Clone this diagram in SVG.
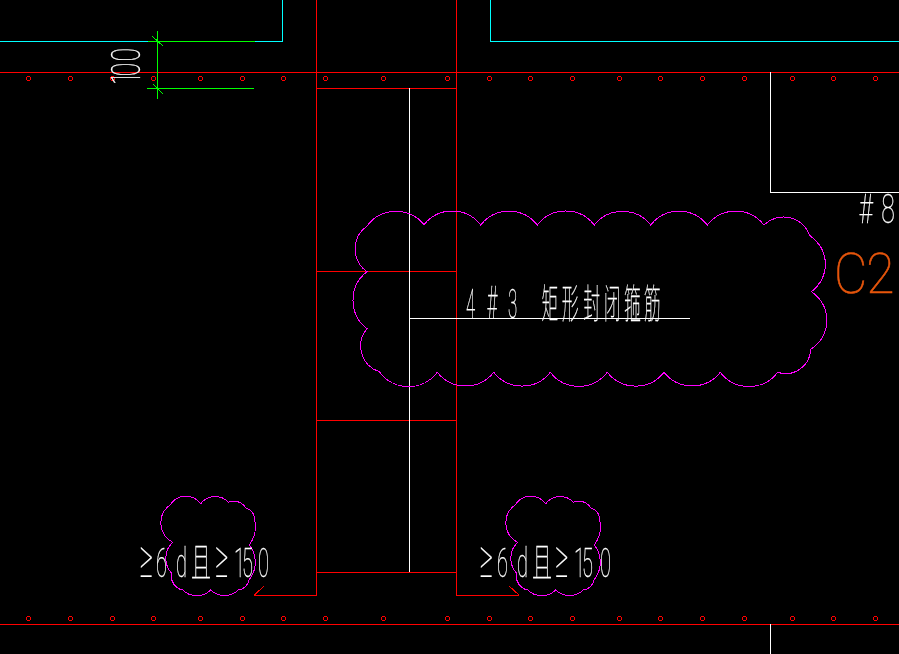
<svg xmlns="http://www.w3.org/2000/svg" width="899" height="654" viewBox="0 0 899 654">
<style>
path,circle{shape-rendering:crispEdges;fill:none;stroke-width:1}
.r{stroke:#f00}
.c{stroke:#0ff}
.g{stroke:#0f0}
.w{stroke:#fff}
.m{stroke:#f0f}
.d{stroke:#f00}
text{fill:#fff;stroke:#fff;stroke-width:.3;font-family:Roboto,"Noto Sans CJK SC",sans-serif;font-weight:100}
.t{filter:url(#gray)}
</style>
<defs>
<filter id="gray" x="-20%" y="-20%" width="140%" height="140%" color-interpolation-filters="sRGB"><feOffset dx="0" dy="0"/></filter>
<circle id="dot" r="2" class="d"/>
<path id="smallcloud" class="m" d="M172.700 542.300A22 22 0 0 1 170 505A18.700 18.700 0 0 1 200.700 503.700A18 18 0 0 1 228.300 502.300A14 14 0 0 1 246 508.300A10 10 0 0 1 254.300 518.300A32 32 0 0 1 249.300 545A28 28 0 0 1 249 580A13 13 0 0 1 238.300 590A20 20 0 0 1 210.700 590A20 20 0 0 1 182.700 590A14 14 0 0 1 171.700 573.300A22 22 0 0 1 172.700 542.300Z"/>
</defs>
<rect width="899" height="654" fill="#000"/>
<g id="connectors">
<path class="c" d="M0 41.500H282.500V0M490.500 0V41.500H899"/>
<path class="r" d="M0 72.500H899M0 624.500H899M316.500 0V595.500M456.500 0V595.500M316 88.500H457M316 271.500H457M316 420.500H457M316 572.500H457M254 595.500H316.500M456.500 595.500H519M254.500 595L264 586M519 595L509 586"/>
<path class="w" d="M409.500 88V572M409 318.500H690M770.500 72V192.500H899M770.500 624V654"/>
<path class="g" d="M148 41.500H255M147 88.500H254M157.500 31V99M152 36L163 46M153 84L163 94"/>
</g>
<g id="rebar-dots">
<use href="#dot" x="28.500" y="78.500"/><use href="#dot" x="70.500" y="78.500"/><use href="#dot" x="112.500" y="78.500"/><use href="#dot" x="153.500" y="78.500"/><use href="#dot" x="200.500" y="78.500"/><use href="#dot" x="242.500" y="78.500"/><use href="#dot" x="283.500" y="78.500"/><use href="#dot" x="325.500" y="78.500"/><use href="#dot" x="383.500" y="78.500"/><use href="#dot" x="447.500" y="78.500"/><use href="#dot" x="489.500" y="78.500"/><use href="#dot" x="530.500" y="78.500"/><use href="#dot" x="572.500" y="78.500"/><use href="#dot" x="619.500" y="78.500"/><use href="#dot" x="660.500" y="78.500"/><use href="#dot" x="702.500" y="78.500"/><use href="#dot" x="744.500" y="78.500"/><use href="#dot" x="792.500" y="78.500"/><use href="#dot" x="833.500" y="78.500"/><use href="#dot" x="875.500" y="78.500"/>
<use href="#dot" x="28.500" y="618.500"/><use href="#dot" x="70.500" y="618.500"/><use href="#dot" x="112.500" y="618.500"/><use href="#dot" x="153.500" y="618.500"/><use href="#dot" x="200.500" y="618.500"/><use href="#dot" x="242.500" y="618.500"/><use href="#dot" x="283.500" y="618.500"/><use href="#dot" x="325.500" y="618.500"/><use href="#dot" x="383.500" y="618.500"/><use href="#dot" x="447.500" y="618.500"/><use href="#dot" x="489.500" y="618.500"/><use href="#dot" x="530.500" y="618.500"/><use href="#dot" x="572.500" y="618.500"/><use href="#dot" x="619.500" y="618.500"/><use href="#dot" x="660.500" y="618.500"/><use href="#dot" x="702.500" y="618.500"/><use href="#dot" x="744.500" y="618.500"/><use href="#dot" x="792.500" y="618.500"/><use href="#dot" x="833.500" y="618.500"/><use href="#dot" x="875.500" y="618.500"/>
</g>
<g id="cloud-main">
<path class="m" d="M424 224.700A36 36 0 0 1 480.700 225A36 36 0 0 1 537.300 225A36 36 0 0 1 594.300 225A36 36 0 0 1 650.700 225A36 36 0 0 1 707.300 225A36 36 0 0 1 764 225A28 28 0 0 1 810 235.700A34 34 0 0 1 811.300 291.700A34 34 0 0 1 810.700 349.300A25 25 0 0 1 777.700 372.300A36 36 0 0 1 720.300 372.300A36 36 0 0 1 664 372.300A36 36 0 0 1 607.300 372.300A36 36 0 0 1 550.300 372.300A36 36 0 0 1 493.700 372.300A36 36 0 0 1 437.300 372.300A36 36 0 0 1 379.300 371.700A27 27 0 0 1 367 328.700A36 36 0 0 1 367 271.700A28 28 0 0 1 367 226A36 36 0 0 1 424 224.700Z"/>
</g>
<g id="cloud-left"><use href="#smallcloud"/></g>
<g id="cloud-right"><use href="#smallcloud" x="345"/></g>
<g id="label-100" class="t"><text transform="translate(140 85) rotate(-90) scale(.62 1)" font-size="40" x="0 14 38">100</text></g>
<g id="label-rebar" class="t"><text transform="translate(466 318) scale(.42 1)" font-size="40" x="0 50 100 180 228 279 328 376 424">4<tspan font-size="44">#</tspan>3矩形封闭箍筋</text></g>
<g id="label-8" class="t"><text transform="translate(859 223) scale(.62 1)" font-size="40" x="0 36">#8</text></g>
<g id="label-c2" class="t"><text transform="translate(834 293) scale(.92 1)" font-size="56" x="0 35" style="fill:#e8560c;stroke:#e8560c;stroke-width:.6">C2</text></g>
<g id="label-left" class="t"><text transform="translate(140 577) scale(.5 1)" font-size="40" x="-1 32 72 102 150 188 204 236"><tspan font-size="52">≥</tspan>6d且<tspan font-size="52">≥</tspan>150</text></g>
<g id="label-right" class="t"><text transform="translate(480 577) scale(.5 1)" font-size="40" x="-1 34 74 104 150 188 204 240"><tspan font-size="52">≥</tspan>6d且<tspan font-size="52">≥</tspan>150</text></g>
</svg>
